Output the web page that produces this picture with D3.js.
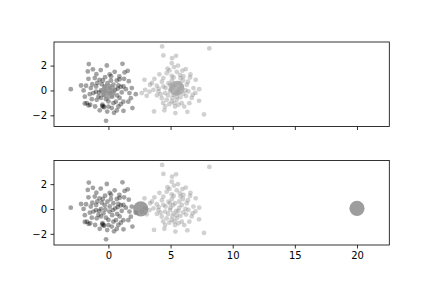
<!DOCTYPE html>
<html>
<head>
<meta charset="utf-8">
<script src="https://cdn.jsdelivr.net/npm/d3@7"></script>
<style>
  body { margin: 0; background: #fff; }
  text { font-family: "DejaVu Sans", sans-serif; }
</style>
</head>
<body>
<div id="chart"></div>
<script>
// cluster A (darker points)
var clusterA = [
  [-3.03,0.10],[-1.58,2.12],[-0.13,2.01],[1.13,2.14],[-1.66,1.53],[-0.62,1.64],[1.55,1.58],[-1.61,0.94],
  [-0.97,1.31],[-0.72,0.86],[-0.27,1.07],[0.21,1.15],[0.67,0.80],[0.88,1.13],[1.26,0.94],[1.64,0.75],
  [-1.80,0.38],[-2.00,0.00],[-1.42,0.19],[-0.99,0.32],[-0.54,0.51],[-0.08,0.59],[0.40,0.46],[0.80,0.40],
  [1.21,0.32],[1.88,0.19],[-1.21,-0.21],[-0.75,-0.16],[-0.40,-0.35],[0.08,-0.21],[0.54,0.05],[1.07,-0.16],
  [1.69,-0.21],[1.80,-0.62],[-1.34,-0.70],[-1.74,-1.02],[-1.47,-1.15],[-0.94,-0.75],[-0.48,-1.15],[-0.40,-1.29],
  [0.00,-0.88],[0.40,-1.02],[0.80,-1.29],[1.21,-1.64],[1.93,-1.42],[0.27,-1.42],[0.67,-1.61],[-0.19,-2.44],
  [-1.07,-1.29],[-0.80,-0.48],[-1.90,-1.05],[-1.60,-1.20],[-0.50,-1.25],[-0.35,-1.35],[0.90,0.90],[1.20,-0.90],
  [-1.10,1.00],[-0.30,0.30],[0.10,0.20],[-0.60,0.00],[0.30,-0.50],[0.70,-0.40],[-0.20,-0.70],[1.40,0.10],
  [-1.50,-0.30],[-2.20,0.40],[0.50,1.50],[-0.10,-1.70],[1.00,0.30],[-0.90,0.60],[0.20,0.80],[-1.30,0.50],
  [0.60,-0.90],[-0.70,-1.60],[1.60,-0.90],[2.20,-0.30],[0.00,-1.30],[-1.00,-0.10],[0.35,-0.10],[0.90,-0.60],
  [-0.45,0.80],[-1.90,-0.50],[1.30,1.45],[0.10,1.30],[-0.25,-0.05],[0.75,0.15],[-1.25,1.70],[0.45,-1.80],
  [1.00,-1.10],[-0.60,-0.60]
];

// cluster B (lighter points)
var clusterB = [
  [4.32,3.54],[8.12,3.38],[4.42,2.82],[5.12,2.60],[5.44,2.79],[5.09,2.20],[5.28,1.88],[6.22,1.72],
  [4.91,1.61],[2.90,0.86],[3.70,0.94],[4.42,1.00],[4.69,1.39],[5.09,1.18],[5.76,1.26],[6.03,1.13],
  [6.57,1.05],[7.02,0.86],[3.35,0.46],[3.89,0.38],[2.95,0.05],[3.62,0.05],[4.42,0.32],[4.83,0.59],
  [5.36,0.46],[5.90,0.32],[6.30,0.46],[6.84,0.19],[2.68,-0.21],[3.08,-0.43],[4.02,-0.08],[4.56,-0.21],
  [4.96,-0.08],[5.23,-0.35],[5.63,-0.16],[6.03,-0.27],[6.43,-0.08],[6.78,-0.35],[7.29,-0.83],[4.29,-0.62],
  [4.69,-0.75],[5.09,-0.88],[5.50,-0.75],[5.90,-1.02],[4.56,-1.29],[5.36,-1.29],[5.63,-1.15],[6.51,-1.02],
  [3.67,-1.69],[5.39,-1.82],[6.35,-1.72],[7.69,-1.93],[5.00,0.10],[5.20,0.30],[5.50,-0.50],[4.80,-0.40],
  [5.70,0.60],[6.20,0.00],[4.30,0.70],[4.60,0.20],[5.80,-0.55],[6.00,0.80],[4.90,-1.10],[5.30,-1.00],
  [3.90,-0.40],[4.10,1.30],[5.50,1.50],[6.70,-0.60],[4.40,-1.00],[5.10,0.80],[5.95,1.60],[3.30,-0.10],
  [4.75,1.75],[6.40,0.70],[5.15,-0.60],[4.20,-0.30],[5.70,0.10],[7.30,0.10],[4.95,0.45],[5.45,-0.15],
  [6.10,-1.30],[5.25,1.05],[3.50,0.60],[5.60,2.00],[4.05,0.15],[6.25,-0.45],[5.80,1.00],[4.50,-1.60],
  [7.00,-0.20],[6.60,1.30]
];

var topCentroids = [[0.0,-0.08],[5.5,0.18]];
var bottomCentroids = [[2.6,0.0],[20.0,0.05]];
var centroidFill = [["#8f8f8f","#a0a0a0"],["#858585","#858585"]];

var xTicks = [0,5,10,15,20];
var yTicks = [-2,0,2];

var svgWidth = 432, svgHeight = 288;
var left = 54, plotW = 335.3, plotH = 84.5;
var panelTops = [42, 160.5];

var svg = d3.select("#chart").append("svg")
  .attr("width", svgWidth)
  .attr("height", svgHeight);

var x = d3.scaleLinear().domain([-4.38, 22.6]).range([0, plotW]);
var y = d3.scaleLinear().domain([-2.9, 3.9]).range([plotH, 0]);

var panels = [topCentroids, bottomCentroids];

panels.forEach(function(cents, i) {
  var g = svg.append("g").attr("transform", `translate(${left}, ${panelTops[i]})`);

  g.append("g").selectAll("circle").data(clusterA).enter().append("circle")
    .attr("cx", d => x(d[0]))
    .attr("cy", d => y(d[1]))
    .attr("r", 2.4)
    .attr("fill", "#000")
    .attr("fill-opacity", 0.36);

  g.append("g").selectAll("circle").data(clusterB).enter().append("circle")
    .attr("cx", d => x(d[0]))
    .attr("cy", d => y(d[1]))
    .attr("r", 2.4)
    .attr("fill", "#808080")
    .attr("fill-opacity", 0.36);

  g.append("g").selectAll("circle").data(cents).enter().append("circle")
    .attr("cx", d => x(d[0]))
    .attr("cy", d => y(d[1]))
    .attr("r", 7.6)
    .attr("fill", (d, j) => centroidFill[i][j])
    .attr("fill-opacity", 0.8);

  // axes
  var bottomAxis = d3.axisBottom(x).tickValues(xTicks).tickSize(3.5).tickPadding(3.5)
    .tickFormat(i === 1 ? d3.format("d") : "");
  var leftAxis = d3.axisLeft(y).tickValues(yTicks).tickSize(3.5).tickPadding(3.5)
    .tickFormat(d => d < 0 ? "\u2212" + Math.abs(d) : d);

  var xa = g.append("g").attr("transform", `translate(0, ${plotH})`).call(bottomAxis);
  var ya = g.append("g").call(leftAxis);
  [xa, ya].forEach(function(a) {
    a.select(".domain").remove();
    a.selectAll("line").attr("stroke", "#000").attr("stroke-width", 0.8);
    a.selectAll("text").attr("font-size", 10).attr("fill", "#000")
      .attr("font-family", "DejaVu Sans, sans-serif");
  });

  g.append("rect")
    .attr("width", plotW)
    .attr("height", plotH)
    .attr("fill", "none")
    .attr("stroke", "#000")
    .attr("stroke-width", 0.8);
});
</script>
</body>
</html>
